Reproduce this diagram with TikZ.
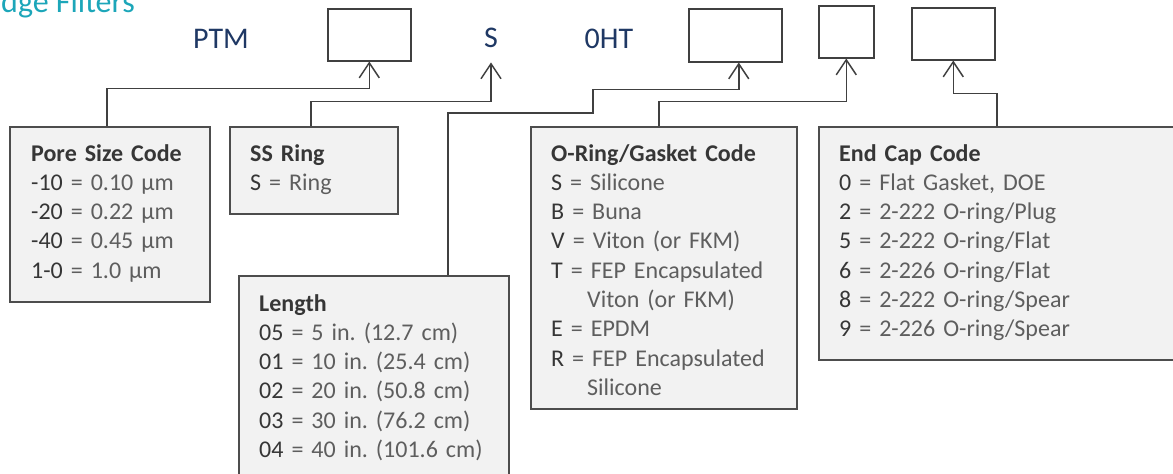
\documentclass[tikz,border=0pt]{standalone}
\usepackage{fontspec}
\setmainfont{Carlito}
\usetikzlibrary{arrows.meta,calc}
\definecolor{linec}{HTML}{404040}
\definecolor{boxline}{HTML}{4D4D4D}
\definecolor{boxfill}{HTML}{F2F2F2}
\definecolor{keyc}{HTML}{363636}
\definecolor{bodyc}{HTML}{5E5E5E}
\definecolor{navyc}{HTML}{1F3864}
\definecolor{titlec}{HTML}{1CA6B9}
\newcommand\kk[1]{{\color{keyc}#1}}
\newcommand\hd[1]{{\bfseries\color{keyc}#1}}
\frenchspacing
\begin{document}
\begin{tikzpicture}[x=1pt,y=-1pt,
  topbox/.style={draw=linec, line width=1.5pt, fill=white, anchor=north west, inner sep=0pt},
  codebox/.style={draw=boxline, line width=1.8pt, fill=boxfill, anchor=north west, inner sep=0pt},
  conn/.style={draw=linec, line width=1.5pt, -{Straight Barb[length=15pt,width=20pt]}},
  boxtext/.style={anchor=base west, inner sep=0pt, text width=300pt, align=left, font=\fontsize{24}{29.3}\selectfont\frenchspacing, text=bodyc},
  toptext/.style={anchor=base, inner sep=0pt, font=\fontsize{30}{36}\selectfont, text=navyc}]
\useasboundingbox (0,0) rectangle (1173,474);

% title (cut off at the edges, as in the reference)
\node[anchor=base west, inner sep=0pt, font=\fontsize{32}{38}\selectfont, text=titlec] (title) at (1,12.5) {dge Filters};

% top row
\node[toptext] (ptm) at (221,48.5) {PTM};
\node[topbox, minimum width=83pt, minimum height=52pt] (b1) at (327,8) {};
\node[toptext] (S) at (491,47) {S};
\node[toptext] (oht) at (609,48) {0HT};
\node[topbox, minimum width=93pt, minimum height=53pt] (b2) at (688,8) {};
\node[topbox, minimum width=55pt, minimum height=52pt] (b3) at (818,5) {};
\node[topbox, minimum width=83pt, minimum height=52pt] (b4) at (911,7) {};
\coordinate (Sa) at ($(S.south)+(0,15)$);

% code boxes
\node[codebox, minimum width=200pt, minimum height=175pt] (pore) at (9,126) {};
\node[codebox, minimum width=168pt, minimum height=87pt] (sring) at (229,126) {};
\node[codebox, minimum width=270pt, minimum height=215pt] (length) at (238,275) {};
\node[codebox, minimum width=266pt, minimum height=282pt] (oring) at (530,126) {};
\node[codebox, minimum width=370pt, minimum height=233pt] (endc) at (818,126) {};

% texts
\node[boxtext] (poret) at ($(pore.north west)+(22,35)$) {\hd{Pore Size Code}\\
\kk{-10} = 0.10 µm\\
\kk{-20} = 0.22 µm\\
\kk{-40} = 0.45 µm\\
\kk{1-0} = 1.0 µm};

\node[boxtext] (sringt) at ($(sring.north west)+(21,35)$) {\hd{SS Ring}\\
\kk{S} = Ring};

\node[boxtext] (lengtht) at ($(length.north west)+(21,36)$) {\hd{Length}\\
\kk{05} = 5 in. (12.7 cm)\\
\kk{01} = 10 in. (25.4 cm)\\
\kk{02} = 20 in. (50.8 cm)\\
\kk{03} = 30 in. (76.2 cm)\\
\kk{04} = 40 in. (101.6 cm)};

\node[boxtext] (oringt) at ($(oring.north west)+(21,35)$) {\hd{O-Ring/Gasket Code}\\
\kk{S} = Silicone\\
\kk{B} = Buna\\
\kk{V} = Viton (or FKM)\\
\kk{T} = FEP Encapsulated\\
\hspace*{36pt}Viton (or FKM)\\
\kk{E} = EPDM\\
\kk{R} = FEP Encapsulated\\
\hspace*{36pt}Silicone};

\node[boxtext] (endct) at ($(endc.north west)+(21,35)$) {\hd{End Cap Code}\\
\kk{0} = Flat Gasket, DOE\\
\kk{2} = 2-222 O-ring/Plug\\
\kk{5} = 2-222 O-ring/Flat\\
\kk{6} = 2-226 O-ring/Flat\\
\kk{8} = 2-222 O-ring/Spear\\
\kk{9} = 2-226 O-ring/Spear};

% connectors
\draw[conn] ([xshift=-3pt]pore.north) |- ($(b1.south)+(0,27)$) -- (b1.south);
\draw[conn] ([xshift=-3pt]sring.north) |- ($(Sa)+(0,39)$) -- (Sa);
\draw[conn] ($(length.north west)+(210,0)$) |- (593,113) |- ($(b2.south)+(3.5,27)$) -- ([xshift=3.5pt]b2.south);
\draw[conn] ([xshift=-5pt]oring.north) |- ($(b3.south)+(0,43)$) -- (b3.south);
\draw[conn] ($(endc.north west)+(179,0)$) |- ($(b4.south)+(0,33)$) -- (b4.south);
\end{tikzpicture}
\end{document}
